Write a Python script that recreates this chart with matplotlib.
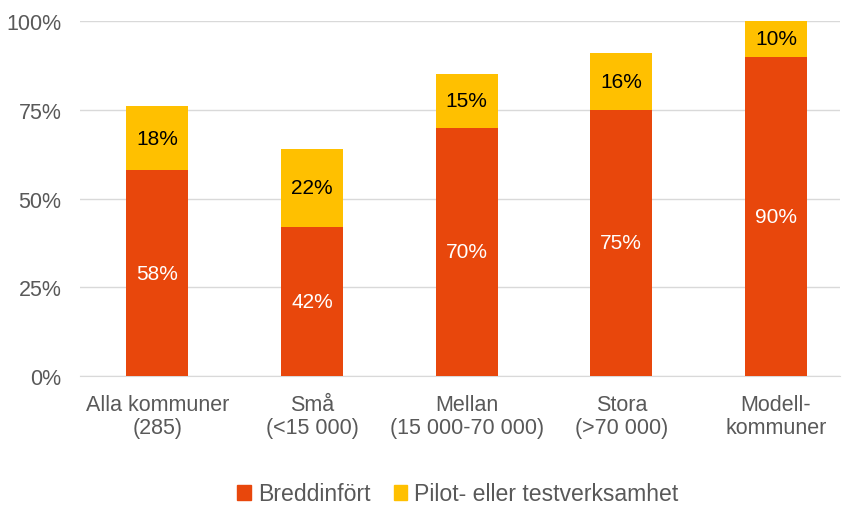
import matplotlib
matplotlib.use("Agg")
import matplotlib.pyplot as plt
from matplotlib.patches import Patch

categories = ["Alla kommuner\n(285)", "Små\n(<15 000)", "Mellan\n(15 000-70 000)", "Stora\n(>70 000)", "Modell-\nkommuner"]
breddinfort = [58, 42, 70, 75, 90]
pilot = [18, 22, 15, 16, 10]
series_names = ["Breddinfört", "Pilot- eller testverksamhet"]

c_orange = "#E8470C"
c_yellow = "#FFC000"
gray = "#595959"

plt.rcParams['font.family'] = ['Liberation Sans', 'DejaVu Sans']

fig = plt.figure(figsize=(8.43, 5.06), dpi=100)
W, H = 843, 506
ax = fig.add_axes([80 / W, 1 - 377 / H, (840 - 80) / W, (377 - 22) / H])

x = list(range(len(categories)))
bw = 0.40
ax.bar(x, breddinfort, width=bw, color=c_orange, zorder=3)
ax.bar(x, pilot, width=bw, bottom=breddinfort, color=c_yellow, zorder=3)

for i in x:
    ax.text(i, breddinfort[i] / 2, f"{breddinfort[i]}%", ha="center", va="center",
            color="white", fontsize=15, zorder=4)
    ax.text(i, breddinfort[i] + pilot[i] / 2, f"{pilot[i]}%", ha="center", va="center",
            color="black", fontsize=15, zorder=4)

ax.set_ylim(0, 100)
ax.set_xlim(-0.5, 4.414)
ax.set_yticks([0, 25, 50, 75, 100])
ax.set_yticklabels(["0%", "25%", "50%", "75%", "100%"])
ax.set_xticks(x)
ax.set_xticklabels(categories, linespacing=1.1)
ax.tick_params(axis="both", length=0, labelsize=15.5, colors=gray)
ax.tick_params(axis="y", pad=13.5)
ax.tick_params(axis="x", pad=13)
ax.grid(axis="y", color="#D9D9D9", linewidth=1, zorder=0)
for s in ["top", "right", "left"]:
    ax.spines[s].set_visible(False)
ax.spines["bottom"].set_color("#D9D9D9")

handles = [Patch(color=c_orange), Patch(color=c_yellow)]
fig.legend(handles, series_names, loc="center", bbox_to_anchor=(458 / W, 1 - 495 / H),
           ncol=2, frameon=False, fontsize=16.6, labelcolor=gray,
           handlelength=0.6, handleheight=0.6, handletextpad=0.3, columnspacing=1.0)

fig.savefig("out.png", dpi=100)
